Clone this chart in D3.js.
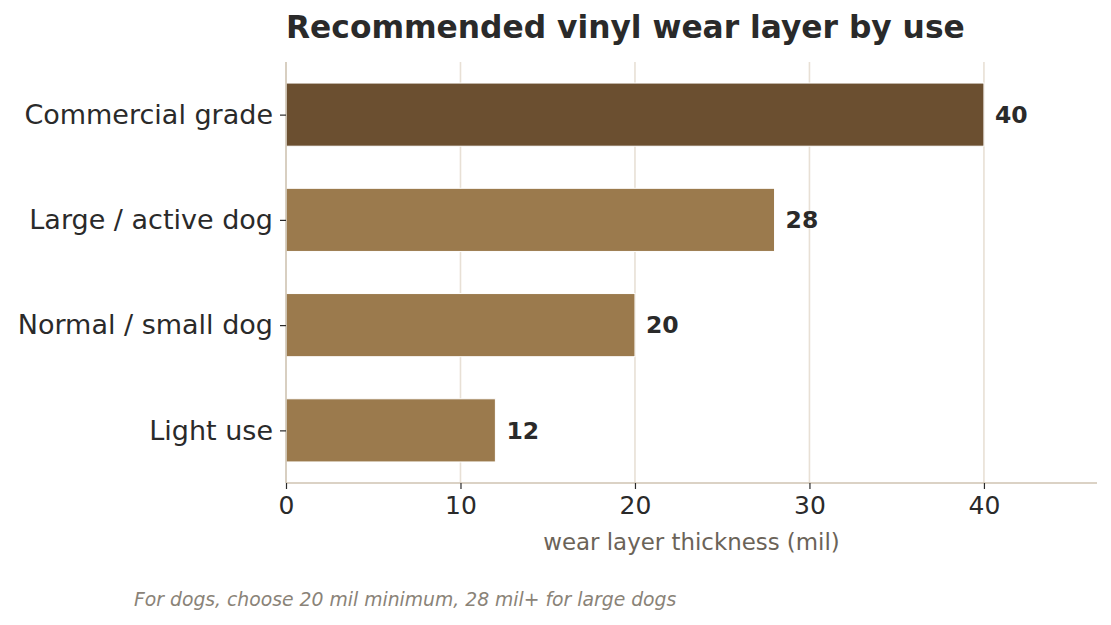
<!DOCTYPE html>
<html>
<head>
<meta charset="utf-8">
<script src="https://cdn.jsdelivr.net/npm/d3@7"></script>
<style>
  html, body { margin: 0; padding: 0; background: #fff; }
  svg text { font-family: "DejaVu Sans", sans-serif; }
</style>
</head>
<body>
<svg id="chart" width="1111" height="625"></svg>
<script>
// data
var categories = ["Light use", "Normal / small dog", "Large / active dog", "Commercial grade"];
var thickness = [12, 20, 28, 40];
var highlight = ["Commercial grade"];
var xTicks = [0, 10, 20, 30, 40];

var plotL = 286, plotR = 1097, plotT = 62, plotB = 483;

var svg = d3.select("#chart");

var x = d3.scaleLinear().domain([0, 46.48]).range([plotL, plotR]);
var y = d3.scaleLinear().domain([-0.5, categories.length - 0.5]).range([plotB, plotT]);
var barH = (y(0) - y(0.6));

// grid
svg.append("g").selectAll("line")
	.data(xTicks.filter(function(d){ return d > 0; }))
	.enter().append("line")
	.attr("x1", function(d){ return x(d); }).attr("x2", function(d){ return x(d); })
	.attr("y1", plotT).attr("y2", plotB)
	.attr("stroke", "#e8e0d5").attr("stroke-width", 1.6);

// bars
svg.append("g").selectAll("rect")
	.data(categories)
	.enter().append("rect")
	.attr("x", x(0))
	.attr("y", function(d, i){ return y(i) - barH / 2; })
	.attr("width", function(d, i){ return x(thickness[i]) - x(0); })
	.attr("height", barH)
	.attr("fill", function(d){ return highlight.indexOf(d) >= 0 ? "#6b4f30" : "#9b7a4d"; })
	.attr("stroke", "#fff").attr("stroke-width", 1);

// value labels
svg.append("g").selectAll("text")
	.data(categories)
	.enter().append("text")
	.attr("x", function(d, i){ return x(thickness[i]) + 11; })
	.attr("y", function(d, i){ return y(i); })
	.attr("dy", "0.35em")
	.attr("font-size", 23.5).attr("font-weight", "bold")
	.attr("fill", "#2a2a2a")
	.text(function(d, i){ return thickness[i]; });

// axes
var xAxis = svg.append("g").attr("transform", "translate(0," + plotB + ")")
	.call(d3.axisBottom(x).tickValues(xTicks).tickSize(6).tickPadding(7));
var yAxis = svg.append("g").attr("transform", "translate(" + plotL + ",0)")
	.call(d3.axisLeft(y).tickValues(d3.range(categories.length))
		.tickFormat(function(i){ return categories[i]; }).tickSize(6).tickPadding(7));

[xAxis, yAxis].forEach(function(a){
	a.select(".domain").attr("stroke", "#cfc3b2").attr("stroke-width", 1.6);
	a.selectAll(".tick line").attr("stroke", "#2a2a2a").attr("stroke-width", 1.2);
	a.selectAll(".tick text").attr("fill", "#2a2a2a")
		.attr("font-family", "DejaVu Sans, sans-serif");
});
xAxis.selectAll(".tick text").attr("font-size", 25).attr("dy", "0.71em");
yAxis.selectAll(".tick text").attr("font-size", 27);
xAxis.select(".domain").attr("d", "M" + plotL + ",0H" + plotR);
yAxis.select(".domain").attr("d", "M0," + plotT + "V" + plotB);

// titles
svg.append("text")
	.attr("x", plotL).attr("y", 38)
	.attr("font-size", 31.3).attr("font-weight", "bold").attr("fill", "#2a2a2a")
	.text("Recommended vinyl wear layer by use");

svg.append("text")
	.attr("x", (plotL + plotR) / 2).attr("y", 550)
	.attr("text-anchor", "middle")
	.attr("font-size", 22.9).attr("fill", "#6b6358")
	.text("wear layer thickness (mil)");

svg.append("text")
	.attr("x", 134).attr("y", 606)
	.attr("font-size", 18.8).attr("font-style", "italic").attr("fill", "#8a8378")
	.text("For dogs, choose 20 mil minimum, 28 mil+ for large dogs");
</script>
</body>
</html>
